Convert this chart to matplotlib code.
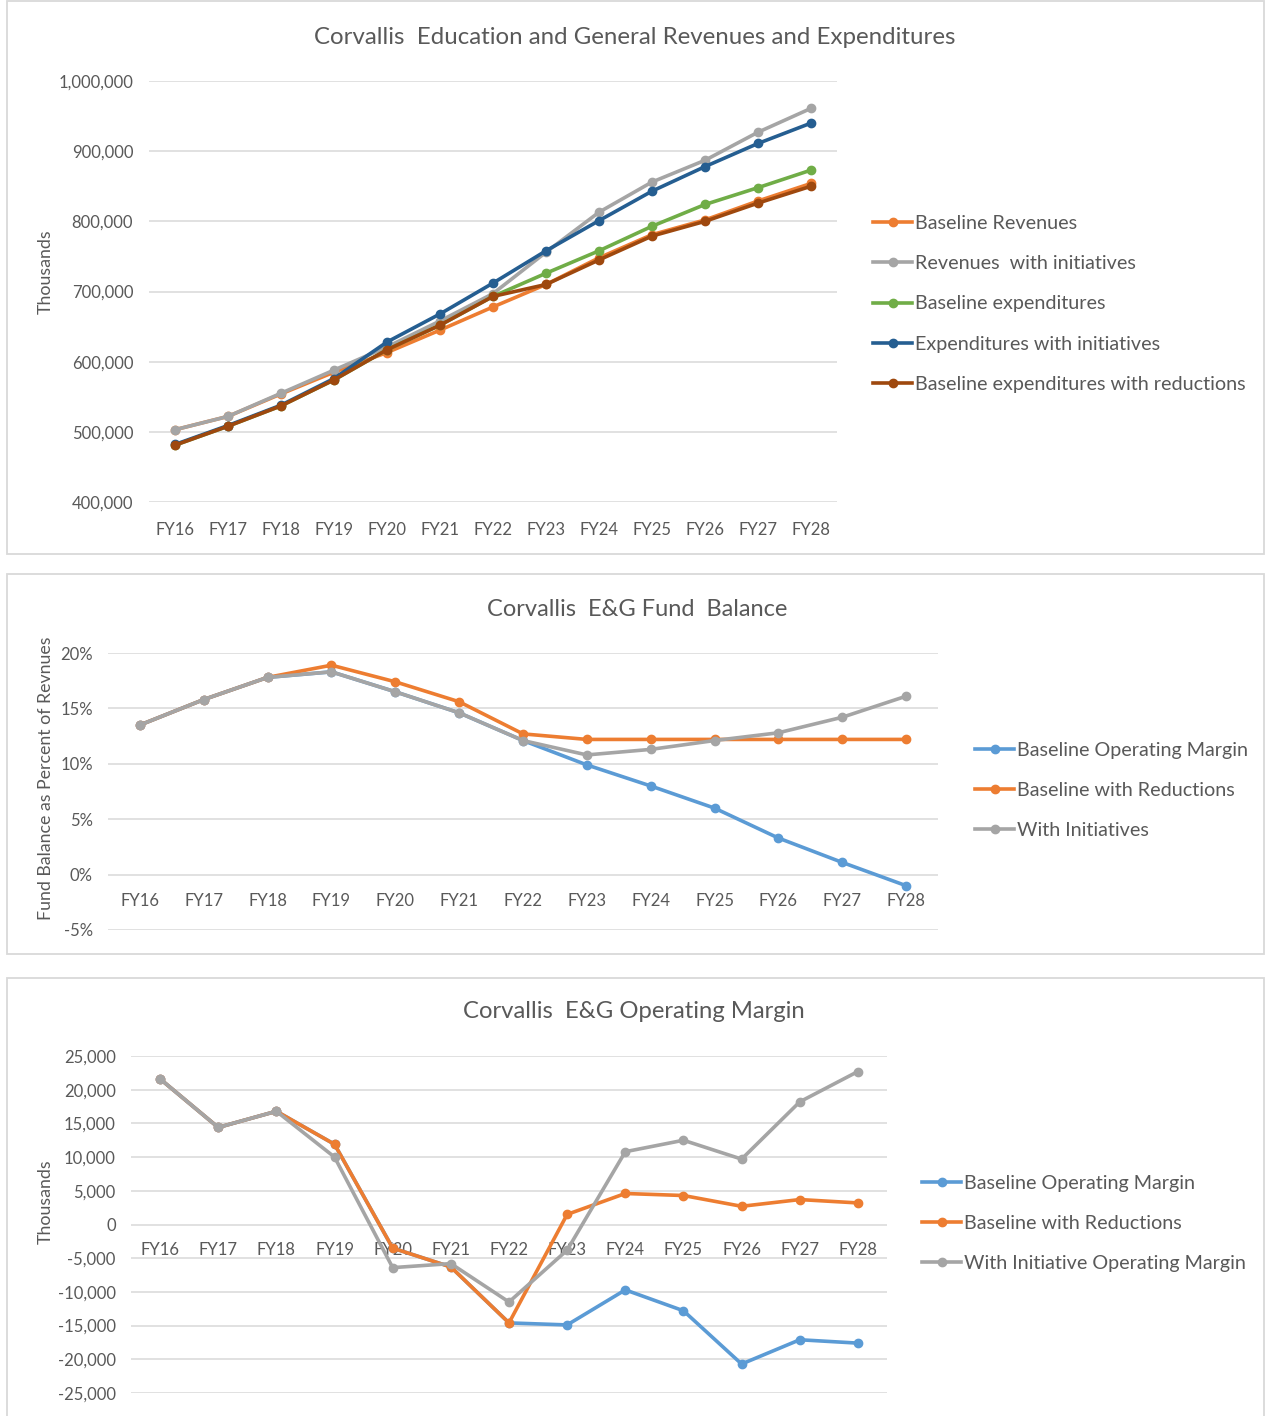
import matplotlib
matplotlib.use("Agg")
import matplotlib.pyplot as plt
from matplotlib.patches import Rectangle
from matplotlib.ticker import FuncFormatter
import numpy as np

plt.rcParams['font.family'] = ['Lato', 'DejaVu Sans']

years = ["FY16", "FY17", "FY18", "FY19", "FY20", "FY21", "FY22",
         "FY23", "FY24", "FY25", "FY26", "FY27", "FY28"]

# Chart 1: revenues and expenditures (thousands)
baseline_revenues = [503000, 522000, 554000, 585000, 613000, 645000, 678000,
                     710000, 748000, 781000, 802000, 829000, 854000]
revenues_initiatives = [503000, 522000, 555000, 588000, 621000, 658000, 697000,
                        756000, 813000, 856000, 887000, 927000, 961000]
baseline_expenditures = [481000, 508000, 537000, 574000, 617000, 652000, 693000,
                         726000, 758000, 793000, 824000, 848000, 873000]
expenditures_initiatives = [482000, 509000, 538000, 576000, 628000, 668000, 712000,
                            758000, 801000, 843000, 878000, 911000, 940000]
baseline_exp_reductions = [481000, 508000, 537000, 574000, 617000, 652000, 693000,
                           710000, 745000, 779000, 800000, 826000, 850000]

# Chart 2: fund balance as percent of revenues
fb_baseline_om = [13.5, 15.8, 17.8, 18.3, 16.5, 14.6, 12.1,
                  9.9, 8.0, 6.0, 3.3, 1.1, -1.0]
fb_baseline_red = [13.5, 15.8, 17.8, 18.9, 17.4, 15.6, 12.7,
                   12.2, 12.2, 12.2, 12.2, 12.2, 12.2]
fb_initiatives = [13.5, 15.8, 17.8, 18.3, 16.5, 14.6, 12.1,
                  10.8, 11.3, 12.1, 12.8, 14.2, 16.1]

# Chart 3: operating margin (thousands)
om_baseline = [21600, 14400, 16800, 11900, -3500, -6300, -14600,
               -14900, -9700, -12800, -20700, -17100, -17600]
om_baseline_red = [21600, 14400, 16800, 11900, -3500, -6300, -14600,
                   1500, 4600, 4300, 2700, 3700, 3200]
om_initiatives = [21600, 14400, 16800, 10000, -6400, -5800, -11500,
                  -3800, 10800, 12500, 9700, 18200, 22700]

TXT = '#595959'
GRID = '#D9D9D9'
W, H = 1265, 1416

fig = plt.figure(figsize=(W / 100, H / 100), dpi=100)


def axrect(x0, y0, x1, y1):
    return [x0 / W, 1 - y1 / H, (x1 - x0) / W, (y1 - y0) / H]


# panel borders
for (x0, y0, x1, y1) in [(7, 1, 1264, 554), (7, 574, 1264, 954), (7, 978, 1264, 1430)]:
    fig.patches.append(Rectangle((x0 / W, 1 - y1 / H), (x1 - x0) / W, (y1 - y0) / H,
                                 transform=fig.transFigure, fill=False,
                                 edgecolor=GRID, linewidth=1.3, zorder=0))

x = np.arange(len(years))


def style(ax, ylim, yticks, fmt, zero_axis=False, xpad=14.5):
    ax.set_xlim(-0.5, len(years) - 0.5)
    ax.set_ylim(*ylim)
    ax.set_yticks(yticks)
    ax.yaxis.set_major_formatter(FuncFormatter(fmt))
    ax.set_xticks(x)
    ax.set_xticklabels(years)
    for s in ax.spines.values():
        s.set_color('none')
    if zero_axis:
        ax.spines['bottom'].set_position(('data', 0))
    ax.tick_params(axis='both', length=0, colors=TXT, labelsize=12)
    ax.tick_params(axis='x', pad=xpad)
    ax.tick_params(axis='y', pad=11)
    ax.yaxis.grid(True, color=GRID, linewidth=1.1)
    ax.set_axisbelow(True)
    ax.patch.set_alpha(0)


def legend(ax, xpx, ypx):
    ax.legend(loc='center left', bbox_to_anchor=(xpx / W, 1 - ypx / H),
              bbox_transform=fig.transFigure, frameon=False, fontsize=14.2,
              labelcolor=TXT, handlelength=2.0, handletextpad=0.15,
              labelspacing=1.185, borderpad=0, borderaxespad=0, numpoints=1)


lw = 2.6
ms = 6

# ---- Chart 1
ax1 = fig.add_axes(axrect(148.5, 81, 837.5, 502))
series1 = [
    (baseline_revenues, '#ED7D31', 'Baseline Revenues'),
    (revenues_initiatives, '#A5A5A5', 'Revenues  with initiatives'),
    (baseline_expenditures, '#70AD47', 'Baseline expenditures'),
    (expenditures_initiatives, '#255E91', 'Expenditures with initiatives'),
    (baseline_exp_reductions, '#9E480E', 'Baseline expenditures with reductions'),
]
for vals, c, lab in series1:
    ax1.plot(x, vals, color=c, lw=lw, marker='o', ms=ms, label=lab)
style(ax1, (400000, 1000000), np.arange(400000, 1000001, 100000),
      lambda v, p: f"{int(v):,}")
ax1.set_ylabel('Thousands', color=TXT, fontsize=12.8)
ax1.yaxis.set_label_coords((54 - 148.5) / 689, (502 - 272) / 421)
legend(ax1, 873, 304)
fig.text(635 / W, 1 - 37 / H,
         'Corvallis  Education and General Revenues and Expenditures',
         ha='center', va='center', fontsize=17.3, color=TXT)

# ---- Chart 2
ax2 = fig.add_axes(axrect(108, 653, 938, 930))
series2 = [
    (fb_baseline_om, '#5B9BD5', 'Baseline Operating Margin'),
    (fb_baseline_red, '#ED7D31', 'Baseline with Reductions'),
    (fb_initiatives, '#A5A5A5', 'With Initiatives'),
]
for vals, c, lab in series2:
    ax2.plot(x, vals, color=c, lw=lw, marker='o', ms=ms, label=lab)
style(ax2, (-5, 20), np.arange(-5, 21, 5), lambda v, p: f"{int(round(v))}%",
      zero_axis=True, xpad=13.5)
ax2.set_ylabel('Fund Balance as Percent of Revnues', color=TXT, fontsize=12.8)
ax2.yaxis.set_label_coords((54 - 108) / 830, (930 - 778) / 277)
legend(ax2, 975, 790.5)
fig.text(637 / W, 1 - 609 / H, 'Corvallis  E&G Fund  Balance',
         ha='center', va='center', fontsize=17, color=TXT)

# ---- Chart 3
ax3 = fig.add_axes(axrect(131, 1056, 887, 1393))
series3 = [
    (om_baseline, '#5B9BD5', 'Baseline Operating Margin'),
    (om_baseline_red, '#ED7D31', 'Baseline with Reductions'),
    (om_initiatives, '#A5A5A5', 'With Initiative Operating Margin'),
]
for vals, c, lab in series3:
    ax3.plot(x, vals, color=c, lw=lw, marker='o', ms=ms, label=lab)
style(ax3, (-25000, 25000), np.arange(-25000, 25001, 5000),
      lambda v, p: f"{int(v):,}", zero_axis=True, xpad=12.5)
ax3.set_ylabel('Thousands', color=TXT, fontsize=12.8)
ax3.yaxis.set_label_coords((54 - 131) / 756, (1393 - 1202) / 337)
legend(ax3, 922, 1223.5)
fig.text(634 / W, 1 - 1012 / H, 'Corvallis  E&G Operating Margin',
         ha='center', va='center', fontsize=17.2, color=TXT)

fig.savefig('out.png', dpi=100)
